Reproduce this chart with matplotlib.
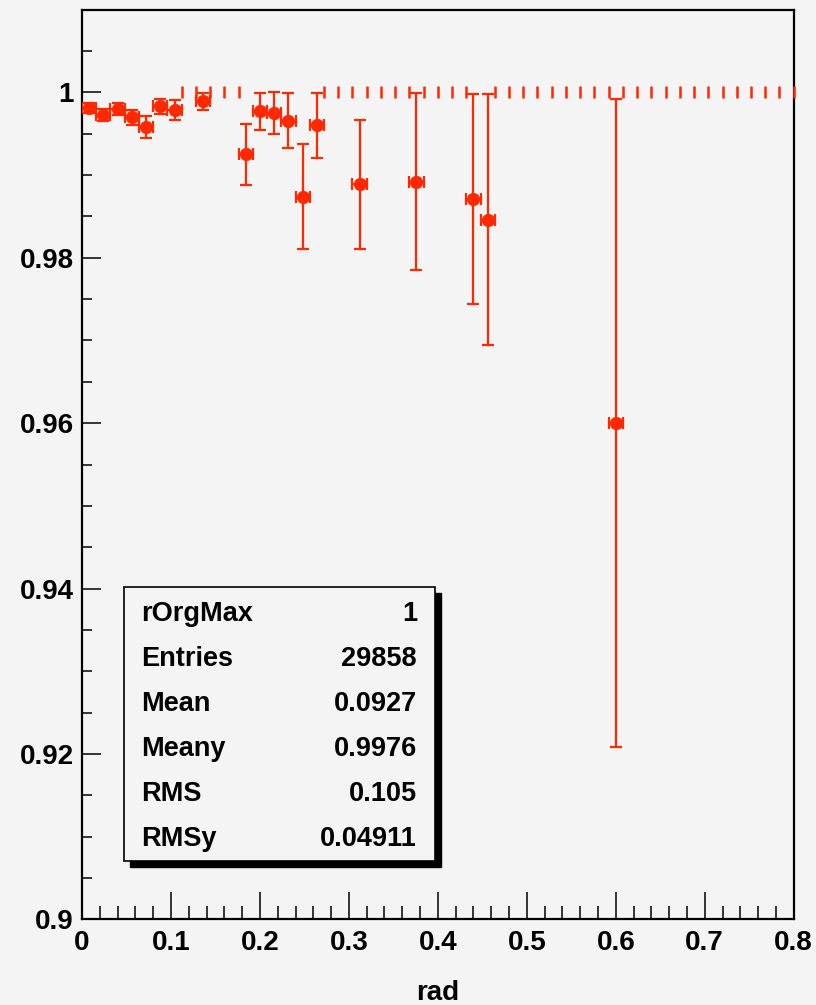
import numpy as np
import matplotlib.pyplot as plt
from matplotlib.patches import Rectangle
from matplotlib.ticker import MultipleLocator, FuncFormatter

# profile binning
n_bins = 50
x_lo, x_hi = 0.0, 0.8

# filled bins: bin index, mean, error on the mean
bin_idx = [0, 1, 2, 3, 4, 5, 6, 8, 11, 12, 13, 14, 15, 16, 19, 23, 27, 28, 37]
bin_mean = [0.9981, 0.9973, 0.9980, 0.9970, 0.9958, 0.9983, 0.9979, 0.9989,
            0.9925, 0.9977, 0.9975, 0.9966, 0.9874, 0.9960, 0.9889, 0.9892,
            0.9871, 0.9846, 0.9600]
bin_err = [0.0006, 0.0007, 0.0007, 0.0009, 0.0013, 0.0009, 0.0012, 0.0010,
           0.0037, 0.0022, 0.0025, 0.0033, 0.0063, 0.0039, 0.0078, 0.0107,
           0.0127, 0.0152, 0.0392]

# the other bins sit at 1 with no error
empty_value = 1.0

# stats box
stat_names = ["rOrgMax", "Entries", "Mean", "Meany", "RMS", "RMSy"]
stat_values = ["1", "29858", "0.0927", "0.9976", "0.105", "0.04911"]

red = '#ff2800'
bg = '#f4f4f4'
W, H = 816, 1005

plt.rcParams['font.family'] = ['Liberation Sans', 'DejaVu Sans']
plt.rcParams['font.weight'] = 'bold'


def fx(px):
    return px / W


def fy(py):
    return 1 - py / H


fig = plt.figure(figsize=(W / 100, H / 100), dpi=100)
fig.patch.set_facecolor(bg)
ax = fig.add_axes([fx(82), fy(919.3), fx(793.7) - fx(82), fy(9.7) - fy(919.3)])
ax.set_facecolor(bg)

edges = np.linspace(x_lo, x_hi, n_bins + 1)
centers = 0.5 * (edges[:-1] + edges[1:])
half_w = 0.5 * (edges[1] - edges[0])

# empty bins: only the little end caps at the bin edges are visible
empty = [i for i in range(n_bins) if i not in bin_idx]
cap_x = sorted(set([round(edges[i], 6) for i in empty] + [round(edges[i + 1], 6) for i in empty]))
ax.plot(cap_x, [empty_value] * len(cap_x), linestyle='none', marker='|',
        ms=8, mew=1.8, color=red, clip_on=False, zorder=4)

ax.errorbar(centers[bin_idx], bin_mean, xerr=half_w, yerr=bin_err, fmt='none',
            ecolor=red, capsize=4, elinewidth=1.6, capthick=1.6, zorder=5)
ax.plot(centers[bin_idx], bin_mean, 'o', color=red, ms=9, mec=red, mew=0.5,
        zorder=6)

ax.set_xlim(x_lo, x_hi)
ax.set_ylim(0.9, 1.01)

ax.xaxis.set_major_locator(MultipleLocator(0.1))
ax.xaxis.set_minor_locator(MultipleLocator(0.02))
ax.yaxis.set_major_locator(MultipleLocator(0.02))
ax.yaxis.set_minor_locator(MultipleLocator(0.005))
fmt = FuncFormatter(lambda v, p: '{:g}'.format(round(v, 6)))
ax.xaxis.set_major_formatter(fmt)
ax.yaxis.set_major_formatter(fmt)

ax.tick_params(which='both', direction='in', top=False, right=False,
               labelsize=20, width=1.1, color='black')
ax.tick_params(axis='x', which='major', length=19.5, pad=8)
ax.tick_params(axis='x', which='minor', length=9.7)
ax.tick_params(axis='y', which='major', length=14, pad=6)
ax.tick_params(axis='y', which='minor', length=7)
for lab in ax.get_xticklabels() + ax.get_yticklabels():
    lab.set_fontweight('bold')

for s in ax.spines.values():
    s.set_linewidth(1.6)
    s.set_color('black')

ax.set_xlabel('rad', fontsize=20, fontweight='bold', labelpad=17)

# stats box with shadow
bl, bt, br, bb = 124, 587, 435, 861
sh = 6
fig.add_artist(Rectangle((fx(bl + sh), fy(bb + sh)), fx(br - bl), fy(bt) - fy(bb),
                         transform=fig.transFigure, facecolor='black',
                         edgecolor='black', zorder=10))
fig.add_artist(Rectangle((fx(bl), fy(bb)), fx(br - bl), fy(bt) - fy(bb),
                         transform=fig.transFigure, facecolor=bg,
                         edgecolor='black', lw=1.2, zorder=11))
for k, (name, val) in enumerate(zip(stat_names, stat_values)):
    yb = fy(621 + 45 * k)
    fig.text(fx(141), yb, name, fontsize=19.5, fontweight='bold',
             va='baseline', ha='left', zorder=12)
    fig.text(fx(417), yb, val, fontsize=19.5, fontweight='bold',
             va='baseline', ha='right', zorder=12)

fig.savefig('out.png', dpi=100, facecolor=bg)
